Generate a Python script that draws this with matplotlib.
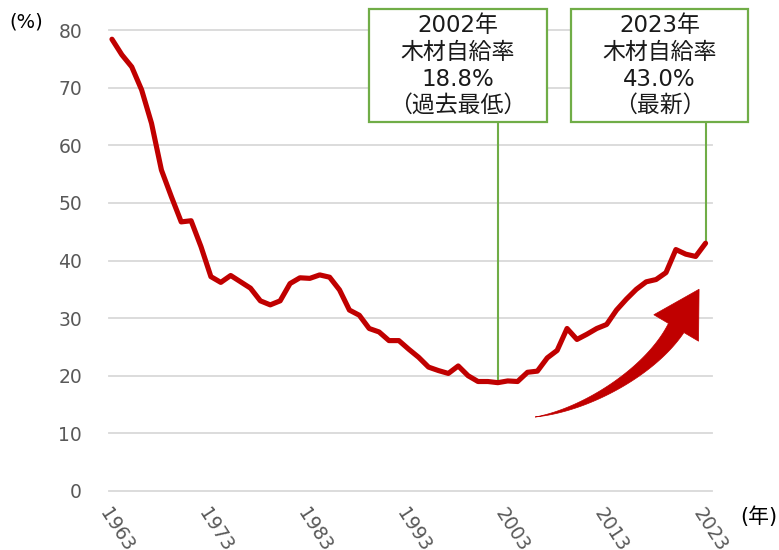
import numpy as np
import matplotlib.pyplot as plt
from matplotlib.patches import Rectangle, Polygon
from matplotlib.transforms import IdentityTransform

plt.rcParams['font.family'] = ['DejaVu Sans', 'Noto Sans CJK JP']

# 木材自給率 (%)
years = list(range(1963, 2024))
rate = [78.4, 75.7, 73.6, 69.6, 63.8, 55.7, 51.1, 46.7, 46.9, 42.4,
        37.2, 36.2, 37.4, 36.3, 35.2, 33.0, 32.3, 33.0, 36.0, 37.0,
        36.9, 37.5, 37.1, 34.9, 31.4, 30.5, 28.2, 27.6, 26.1, 26.1,
        24.6, 23.2, 21.5, 20.9, 20.4, 21.7, 20.0, 19.0, 19.0, 18.8,
        19.1, 19.0, 20.6, 20.8, 23.1, 24.4, 28.2, 26.3, 27.2, 28.2,
        28.9, 31.4, 33.3, 35.0, 36.3, 36.7, 37.9, 41.9, 41.1, 40.7,
        43.0]
xticks = [1963, 1973, 1983, 1993, 2003, 2013, 2023]
yticks = [0, 10, 20, 30, 40, 50, 60, 70, 80]

callout_years = [2002, 2023]
callout_texts = [['2002年', '木材自給率', '18.8%', '（過去最低）'],
                 ['2023年', '木材自給率', '43.0%', '（最新）']]

RED = '#C00000'
GREEN = '#70AD47'
GRAY = '#595959'

W, H = 779, 550
fig = plt.figure(figsize=(W / 100, H / 100), dpi=100)
ax = fig.add_axes([108.5 / W, 1 - 491 / H, (711.5 - 108.5) / W, (491 - 30) / H])

ax.plot(years, rate, color=RED, lw=3.7, solid_joinstyle='round',
        solid_capstyle='round', zorder=4)

ax.set_xlim(1962.65, 2023.6)
ax.set_ylim(0, 80)
ax.set_yticks(yticks)
ax.set_xticks(xticks)
ax.set_xticklabels([str(x) for x in xticks], rotation=-57, ha='left',
                   va='top', rotation_mode='anchor')
ax.tick_params(axis='both', length=0, labelsize=13.5, labelcolor=GRAY)
ax.tick_params(axis='y', pad=19)
ax.tick_params(axis='x', pad=10)
ax.grid(axis='y', color='#D9D9D9', lw=1.3)
ax.set_axisbelow(True)
for s in ax.spines.values():
    s.set_visible(False)
for gl in ax.get_ygridlines():
    gl.set_clip_on(False)

fig.text(26 / W, 1 - 22 / H, '(%)', ha='center', va='center', fontsize=14)
fig.text(759 / W, 1 - 517 / H, '(年)', ha='center', va='center', fontsize=15)

# callout boxes
boxes = [(369, 9, 547, 122), (571, 9, 748, 122)]
for (x0, y0, x1, y1), yr, lines in zip(boxes, callout_years, callout_texts):
    fig.patches.append(Rectangle((x0 / W, 1 - y1 / H), (x1 - x0) / W, (y1 - y0) / H,
                                 transform=fig.transFigure, fill=True,
                                 facecolor='white', edgecolor=GREEN, lw=1.6,
                                 zorder=5))
    cx = (x0 + x1) / 2
    for i, t in enumerate(lines):
        fig.text(cx / W, 1 - (26 + 26.5 * i) / H, t, ha='center', va='center',
                 fontsize=16.5, color='#1a1a1a', zorder=6)
    val = rate[years.index(yr)]
    ybox = ax.transData.inverted().transform(
        fig.transFigure.transform((0, 1 - y1 / H)))[1]
    ax.plot([yr, yr], [val, ybox], color=GREEN, lw=1.5, clip_on=False, zorder=3)

# curved arrow
tail = (2005.77, 12.84)
c1 = (2010.83, 14.06)
c2 = (2017.40, 20.65)
neck = (2020.03, 28.29)
pts = ax.transData.transform([tail, c1, c2, neck])
P0, P1, P2, P3 = pts
t = np.linspace(0, 1, 80)[:, None]
curve = ((1 - t) ** 3 * P0 + 3 * (1 - t) ** 2 * t * P1
         + 3 * (1 - t) * t ** 2 * P2 + t ** 3 * P3)
deriv = (3 * (1 - t) ** 2 * (P1 - P0) + 6 * (1 - t) * t * (P2 - P1)
         + 3 * t ** 2 * (P3 - P2))
d = deriv / np.linalg.norm(deriv, axis=1)[:, None]
n = np.column_stack([-d[:, 1], d[:, 0]])
w = 18 * t[:, 0] ** 1.1
upper = curve + n * (w[:, None] / 2)
lower = curve - n * (w[:, None] / 2)
dend, nend = d[-1], n[-1]
head = [P3 + nend * 26, P3 + dend * 45, P3 - nend * 26]
poly = np.vstack([upper, head, lower[::-1]])
fig.patches.append(Polygon(poly, closed=True, transform=IdentityTransform(),
                           facecolor=RED, edgecolor=RED, lw=0.5, zorder=3))

fig.savefig('out.png', dpi=100)
